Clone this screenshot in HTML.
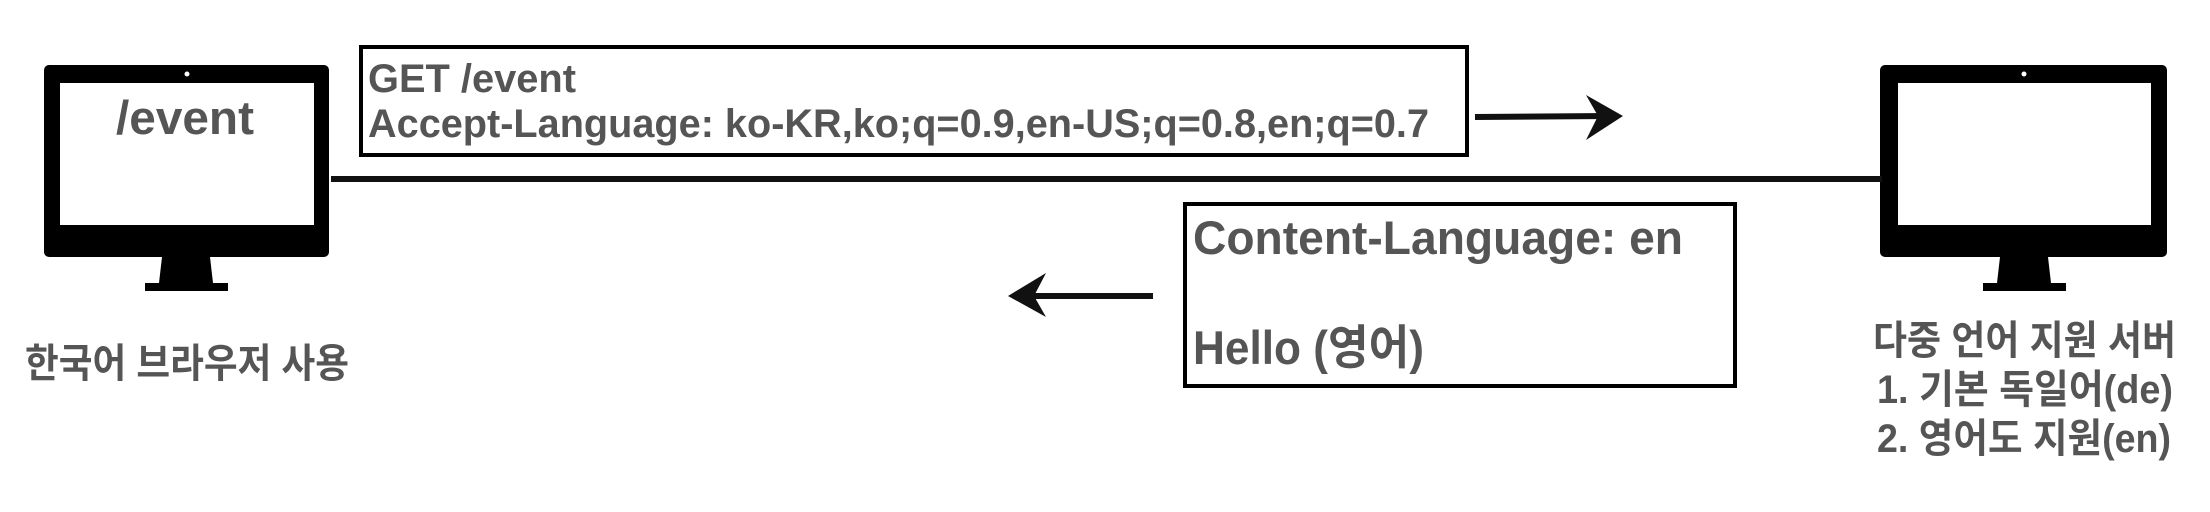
<!DOCTYPE html>
<html><head><meta charset="utf-8"><style>
html,body{margin:0;padding:0;background:#fff;}
svg{display:block}
text{font-family:"Liberation Sans","Noto Sans CJK KR",sans-serif;font-weight:bold;fill:#555}
</style></head><body>
<svg width="2210" height="512" viewBox="0 0 2210 512" xmlns="http://www.w3.org/2000/svg">
<!-- left monitor -->
<rect x="44" y="65" width="285" height="192" rx="5" fill="#000"/>
<rect x="60" y="83" width="254" height="142" fill="#fff"/>
<circle cx="187" cy="74" r="2.5" fill="#fff"/>
<polygon points="162,257 210,257 213,283 159,283" fill="#000"/>
<rect x="145" y="283" width="83" height="8" fill="#000"/>
<text x="116" y="134" font-size="47" textLength="138" lengthAdjust="spacingAndGlyphs">/event</text>
<!-- right monitor -->
<rect x="1880" y="65" width="287" height="192" rx="5" fill="#000"/>
<rect x="1898" y="83" width="253" height="142" fill="#fff"/>
<circle cx="2024" cy="74" r="2.5" fill="#fff"/>
<polygon points="2000,257 2048,257 2051,283 1997,283" fill="#000"/>
<rect x="1983" y="283" width="83" height="8" fill="#000"/>
<!-- top box -->
<rect x="361" y="47" width="1106" height="108" fill="none" stroke="#000" stroke-width="4"/>
<text x="368" y="92" font-size="40" textLength="208" lengthAdjust="spacingAndGlyphs">GET /event</text>
<text x="368" y="137" font-size="40" textLength="1061" lengthAdjust="spacingAndGlyphs">Accept-Language: ko-KR,ko;q=0.9,en-US;q=0.8,en;q=0.7</text>
<!-- main line -->
<line x1="331" y1="179" x2="1882" y2="179" stroke="#111" stroke-width="6"/>
<!-- right arrow -->
<line x1="1475" y1="117" x2="1610" y2="116" stroke="#111" stroke-width="6"/>
<path d="M1586,95 L1623,116 L1586,140 L1598,116 Z" fill="#111"/>
<!-- left arrow -->
<line x1="1020" y1="296" x2="1153" y2="296" stroke="#111" stroke-width="6"/>
<path d="M1046,273 L1008,296 L1046,317 L1034,296 Z" fill="#111"/>
<!-- bottom box -->
<rect x="1185" y="204" width="550" height="182" fill="none" stroke="#000" stroke-width="4"/>
<text x="1193" y="254" font-size="47" textLength="490" lengthAdjust="spacingAndGlyphs">Content-Language: en</text>
<text x="1193" y="364" font-size="47" textLength="231" lengthAdjust="spacingAndGlyphs">Hello (영어)</text>
<!-- labels -->
<text x="25" y="377" font-size="40" textLength="324" lengthAdjust="spacingAndGlyphs">한국어 브라우저 사용</text>
<text x="1873" y="354" font-size="40" textLength="303" lengthAdjust="spacingAndGlyphs">다중 언어 지원 서버</text>
<text x="1877" y="403" font-size="40" textLength="296" lengthAdjust="spacingAndGlyphs">1. 기본 독일어(de)</text>
<text x="1877" y="452" font-size="40" textLength="294" lengthAdjust="spacingAndGlyphs">2. 영어도 지원(en)</text>
</svg>
</body></html>
